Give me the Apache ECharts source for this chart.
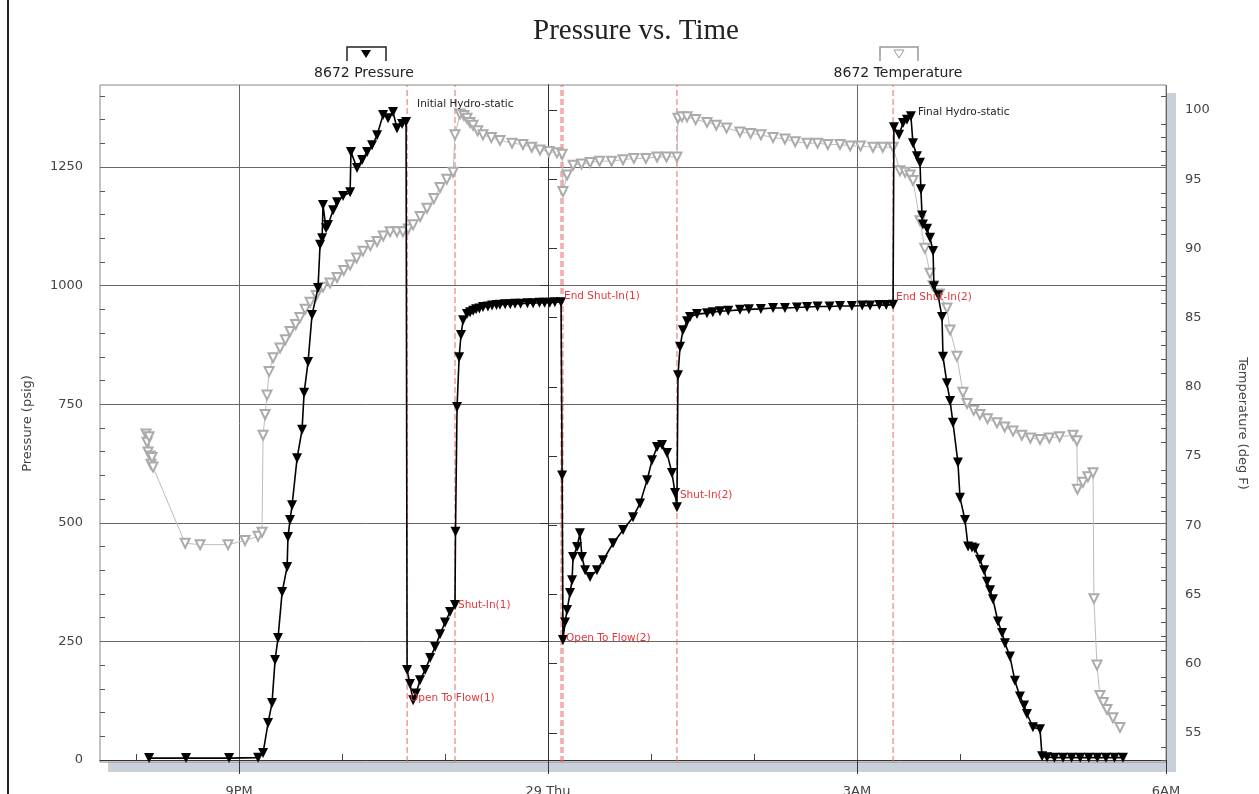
<!DOCTYPE html>
<html><head><meta charset="utf-8">
<script src="https://cdn.jsdelivr.net/npm/echarts@6/dist/echarts.min.js"></script>
<style>html,body{margin:0;padding:0;background:#fff}#c{width:1259px;height:794px}</style>
</head><body><div id="c"></div>
<script>
// Time is in minutes relative to 29 Thu 00:00 (negative = evening of the 28th)
const xTickValues = [-180, 0, 180, 360];
const xTickLabels = ['9PM', '29 Thu', '3AM', '6AM'];
const xHourTicks = [-240, -120, -60, 60, 120, 240, 300];
const pressureTicks = [0, 250, 500, 750, 1000, 1250];
const temperatureTicks = [55, 60, 65, 70, 75, 80, 85, 90, 95, 100];

const pressureTime = [-232.4,-210.9,-185.8,-168.9,-166.0,-163.1,-160.8,-159.0,-157.3,-154.9,-152.0,-151.5,-150.3,-149.1,-146.2,-143.3,-142.1,-139.8,-137.5,-134.0,-132.8,-131.6,-131.1,-129.3,-128.2,-125.2,-122.9,-119.4,-115.3,-114.8,-111.3,-108.3,-105.4,-102.5,-99.6,-96.1,-93.2,-90.3,-88.0,-85.0,-82.7,
 -82.1,-80.4,-78.6,-76.9,-74.6,-71.6,-68.7,-65.8,-62.9,-60.0,-57.1,-54.2,
 -53.9,-53.0,-51.8,-50.7,-49.5,-47.2,-45.4,-43.6,-41.9,-40.0,-37.9,-35.0,-32.6,-30.0,-28.0,-25.0,-22.0,-19.2,-16.0,-12.0,-8.7,-5.0,-2.0,1.0,4.0,7.6,
 8.2,8.7,9.9,11.1,12.8,14.0,14.6,16.9,18.6,19.8,21.6,24.5,28.5,32.0,37.9,43.7,49.5,53.6,57.7,60.6,63.5,66.4,69.3,72.2,74.0,75.1,
 75.7,76.9,78.6,81.0,82.7,86.8,92.6,96.0,100.2,105.0,111.8,117.0,124.0,131.1,138.0,145.0,150.9,157.0,164.0,170.1,177.0,183.0,187.6,193.0,197.0,201.0,
 201.5,204.5,206.8,209.1,211.4,212.6,214.9,216.7,217.2,217.9,218.4,220.8,222.5,224.3,224.8,227.2,229.5,230.1,232.4,234.2,235.9,238.8,240.0,242.9,244.7,247.0,248.7,251.6,254.0,255.7,257.5,259.2,262.1,264.5,266.2,269.1,272.0,274.9,277.3,279.0,282.5,286.6,287.8,290.7,295,300,305,310,315,320,325,330,334.9];
const pressureValue = [4,4,4,5,15,78,120,211,257,354,407,470,506,537,636,696,774,839,938,995,1086,1100,1170,1121,1128,1159,1176,1189,1197,1282,1248,1265,1282,1296,1317,1360,1353,1366,1332,1341,1345,
 190,160,126,140,168,190,215,238,265,290,312,327,
 481,744,849,896,927,940,944,947,950,952,955,956,958,959,960,961,961,962,962,963,963,964,964,964,965,965,
 600,253,290,316,352,379,428,449,478,428,400,386,400,421,457,485,512,541,590,632,660,664,647,605,563,533,
 811,871,906,925,934,940,942,944,946,947,949,950,951,953,953,954,955,956,956,957,957,958,958,959,959,960,
 1334,1318,1343,1350,1357,1300,1273,1259,1203,1148,1129,1120,1101,1073,999,980,934,850,794,757,711,627,553,506,450,448,446,422,400,376,358,339,292,268,246,218,167,134,115,97,69,65,8,6,5,5,5,5,5,5,5,5,5];

const temperatureTime = [-234.2,-233.6,-233.0,-232.4,-231.8,-231.3,-230.7,-230.1,-211.4,-202.7,-186.4,-176.5,-168.9,-166.6,-166.0,-164.8,-163.7,-162.5,-160.2,-156.1,-153,-150.3,-147,-144.5,-141.5,-138.6,-135,-131.1,-127,-122.9,-119,-115.3,-111.5,-107.8,-103.5,-99.6,-96,-92.0,-88,-84.5,-81.5,-78.6,-74.5,-70.5,-66.5,-62.9,-59,-55.3,
 -54.2,-51.3,-49,-47.2,-45.5,-43.7,-41,-37.9,-33,-28.0,-21,-14.6,-9.5,-4.7,0.5,5.2,8.2,
 8.7,11.1,14.6,19.5,24.5,30,37,43.7,50,57,63.5,69,75.1,
 75.7,78,81.0,86,92.6,98,104,111.8,118,124,131.1,138,144,150.9,157,163,170.1,176,182,189.3,195,201.0,
 205.0,208,210.9,212.6,216.7,219.5,222.5,224.3,228,232.4,234.2,238.2,241.7,244.1,248,251.6,256,261.5,266,270.9,276,281,286.6,292,298,305.8,308.1,308.4,311.6,314.5,317.5,318.0,319.8,321.5,323.5,325.6,329.1,333.2];
const temperatureValue = [76.6,76.0,75.3,76.4,75.0,74.4,74.9,74.2,68.7,68.6,68.6,68.9,69.2,69.5,76.5,78.0,79.4,81.1,82.1,82.8,83.4,84.0,84.5,85.0,85.6,86.1,86.6,87.2,87.5,87.9,88.4,88.8,89.3,89.8,90.2,90.5,90.9,91.2,91.2,91.2,91.4,91.7,92.3,92.9,93.6,94.4,95.0,95.5,
 98.2,99.7,99.6,99.4,99.1,98.9,98.5,98.2,98.0,97.8,97.6,97.5,97.3,97.1,97.0,96.9,96.8,
 94.1,95.3,96.0,96.1,96.2,96.3,96.3,96.4,96.5,96.5,96.6,96.6,96.6,
 99.4,99.5,99.5,99.3,99.1,98.9,98.7,98.4,98.3,98.2,98.0,97.9,97.7,97.6,97.6,97.5,97.5,97.4,97.4,97.3,97.3,97.3,
 95.6,95.5,95.3,94.9,92.0,90.0,88.2,87.3,86.7,85.7,84.1,82.2,79.6,78.8,78.3,78.0,77.7,77.4,77.1,76.8,76.5,76.3,76.2,76.3,76.4,76.5,76.1,72.6,73.1,73.5,73.8,64.7,59.9,57.7,57.2,56.7,56.1,55.4];

const eventNames = ['Initial Hydro-static', 'Open To Flow(1)', 'Shut-In(1)', 'End Shut-In(1)', 'Open To Flow(2)', 'Shut-In(2)', 'End Shut-In(2)', 'Final Hydro-static'];
const eventTime = [-82.7, -82.1, -54.2, 7.6, 8.7, 75.1, 201.0, 211.4];
const eventPressure = [1345, 130, 327, 970, 257, 545, 968, 1357];
const flowEvents = [1, 2, 3, 4, 5, 6]; // events drawn as red dashed lines

const FONT = 'DejaVu Sans';
const RED = '#e2383c';
const P_MIN = -4.2, P_MAX = 1423;
const pressureData = pressureTime.map((t, i) => [t, pressureValue[i]]);
const temperatureData = temperatureTime.map((t, i) => [t, temperatureValue[i]]);
const pMinor = []; for (let v = 50; v <= 1400; v += 50) if (v % 250) pMinor.push(v);
const tMinor = []; for (let v = 53; v <= 101; v++) if (v % 5) tMinor.push(v);

const chart = echarts.init(document.getElementById('c'), null, {renderer: 'canvas'});
const labelColors = ['#222', RED, RED, RED, RED, RED, RED, '#222'];
const labelOffsets = [[8, -18], [0, 0], [0, 0], [0, -4], [0, 0], [0, -6], [0, -4], [4, -4]];

const eventLineSeries = flowEvents.map(i => ({
  type: 'line', yAxisIndex: 0, z: 1, silent: true, symbol: 'none',
  data: [[eventTime[i], P_MIN], [eventTime[i], P_MAX]],
  lineStyle: {color: '#e66a6a', type: [6, 3], width: 1},
  itemStyle: {color: '#e66a6a'}
}));

chart.setOption({
  animation: false,
  backgroundColor: '#fff',
  grid: {left: 100, right: 93, top: 85, bottom: 32, show: true, borderColor: '#888', borderWidth: 1,
    backgroundColor: 'transparent', containLabel: false, outerBoundsMode: 'none'},
  xAxis: [{
    type: 'value', min: -261, max: 360, position: 'bottom',
    axisLine: {show: true, lineStyle: {color: '#333', width: 1}},
    axisTick: {show: true, customValues: xTickValues, length: 14, lineStyle: {color: '#333'}},
    axisLabel: {customValues: xTickValues, margin: 23, color: '#444', fontFamily: FONT, fontSize: 13,
      formatter: v => xTickLabels[xTickValues.indexOf(v)] || ''},
    splitLine: {show: true, lineStyle: {color: '#666', width: 1}}
  }, {
    type: 'value', min: -261, max: 360, position: 'bottom',
    axisLine: {show: false},
    axisTick: {show: true, inside: true, customValues: xHourTicks, length: 6, lineStyle: {color: '#444'}},
    axisLabel: {show: false}, splitLine: {show: false}
  }],
  yAxis: [{
    type: 'value', position: 'left', min: P_MIN, max: P_MAX,
    name: 'Pressure (psig)', nameLocation: 'middle', nameGap: 66, nameRotate: 90,
    nameTextStyle: {color: '#444', fontFamily: FONT, fontSize: 13},
    axisLine: {show: true, lineStyle: {color: '#333'}},
    axisTick: {show: true, customValues: pressureTicks, length: 8, lineStyle: {color: '#333'}},
    axisLabel: {customValues: pressureTicks, margin: 17, color: '#444', fontFamily: FONT, fontSize: 13,
      formatter: v => String(v)},
    splitLine: {show: true, lineStyle: {color: '#666', width: 1}}
  }, {
    type: 'value', position: 'right', min: 52.9, max: 101.8,
    name: 'Temperature (deg F)', nameLocation: 'middle', nameGap: 70, nameRotate: -90,
    nameTextStyle: {color: '#444', fontFamily: FONT, fontSize: 13},
    axisLine: {show: true, lineStyle: {color: '#333'}},
    axisTick: {show: true, customValues: temperatureTicks, length: 9, lineStyle: {color: '#333'}},
    axisLabel: {customValues: temperatureTicks, margin: 19, color: '#444', fontFamily: FONT, fontSize: 13,
      formatter: v => String(v)},
    splitLine: {show: false}
  }, {
    type: 'value', position: 'left', min: P_MIN, max: P_MAX,
    axisLine: {show: false}, axisLabel: {show: false}, splitLine: {show: false},
    axisTick: {show: true, inside: true, customValues: pMinor, length: 5, lineStyle: {color: '#555'}}
  }, {
    type: 'value', position: 'right', min: 52.9, max: 101.8,
    axisLine: {show: false}, axisLabel: {show: false}, splitLine: {show: false},
    axisTick: {show: true, inside: true, customValues: tMinor, length: 5, lineStyle: {color: '#555'}}
  }],
  series: eventLineSeries.concat([{
    name: '8672 Temperature', type: 'line', yAxisIndex: 1, z: 2,
    data: temperatureData,
    symbol: 'emptyTriangle', symbolRotate: 180, symbolSize: 9,
    lineStyle: {color: '#bdbdbd', width: 1},
    itemStyle: {color: '#ababab', borderColor: '#ababab', borderWidth: 1}
  }, {
    name: '8672 Pressure', type: 'line', yAxisIndex: 0, z: 3,
    data: pressureData,
    symbol: 'triangle', symbolRotate: 180, symbolSize: 10,
    lineStyle: {color: '#000', width: 1.6},
    itemStyle: {color: '#000'},
    markPoint: {
      silent: true, symbol: 'circle', symbolSize: 0,
      data: eventNames.map((n, i) => ({
        name: n, coord: [eventTime[i], eventPressure[i]],
        label: {show: true, position: 'right', distance: 3, formatter: '{b}', color: labelColors[i],
          fontFamily: FONT, fontSize: 10.5, offset: labelOffsets[i]}
      }))
    }
  }]),
  graphic: [
    {type: 'line', z: 10, shape: {x1: 8, y1: 0, x2: 8, y2: 794}, style: {stroke: '#222', lineWidth: 2}},
    {type: 'rect', z: -1, shape: {x: 1166, y: 93, width: 10, height: 679}, style: {fill: '#c8d0d9'}},
    {type: 'rect', z: -1, shape: {x: 108, y: 762, width: 1068, height: 10}, style: {fill: '#c8d0d9'}},
    {type: 'text', x: 636, y: 31, style: {text: 'Pressure vs. Time', font: '29px "Liberation Serif"', fill: '#222', textAlign: 'center', textVerticalAlign: 'middle'}},
    {type: 'polyline', shape: {points: [[347, 61], [347, 47], [386, 47], [386, 61]]}, style: {stroke: '#222', lineWidth: 1.5, fill: null}},
    {type: 'polygon', shape: {points: [[361, 50], [371, 50], [366, 58]]}, style: {fill: '#000'}},
    {type: 'text', x: 364, y: 73, style: {text: '8672 Pressure', font: '14px "DejaVu Sans"', fill: '#222', textAlign: 'center', textVerticalAlign: 'middle'}},
    {type: 'polyline', shape: {points: [[880, 61], [880, 47], [918, 47], [918, 61]]}, style: {stroke: '#999', lineWidth: 1.5, fill: null}},
    {type: 'polygon', shape: {points: [[894, 50], [904, 50], [899, 58]]}, style: {fill: '#fff', stroke: '#999', lineWidth: 1}},
    {type: 'text', x: 898, y: 73, style: {text: '8672 Temperature', font: '14px "DejaVu Sans"', fill: '#222', textAlign: 'center', textVerticalAlign: 'middle'}}
  ]
});
</script></body></html>
